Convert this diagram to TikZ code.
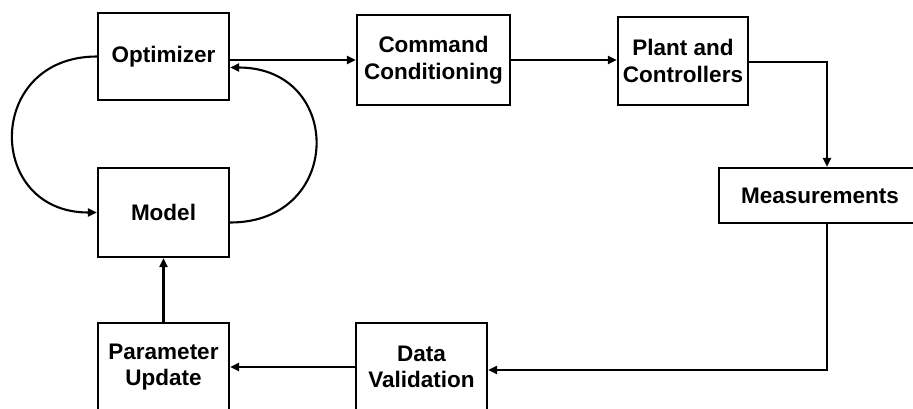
\documentclass[tikz,border=0pt]{standalone}
\usepackage{fontspec}
\setmainfont{Liberation Sans}
\usetikzlibrary{arrows.meta}
\begin{document}
\begin{tikzpicture}[x=1pt,y=-1pt,
  blk/.style={draw,line width=2.2pt,inner sep=0pt,align=center,
    font=\fontsize{22.5}{26.5}\selectfont\bfseries},
  flow/.style={line width=2.1pt,-{Triangle[length=9pt,width=8pt]}}]
\useasboundingbox (0,0) rectangle (913,408);
\clip (0,0) rectangle (913,408);
% blocks (lower ones run past the bottom edge)
\node[blk,minimum width=131pt,minimum height=87pt] (opt) at (163.5,56.5) {Optimizer};
\node[blk,minimum width=131pt,minimum height=89pt] (model) at (163.5,212.5) {Model};
\node[blk,minimum width=131pt,minimum height=88pt] (pu) at (163.5,367) {Parameter\\Update};
\node[blk,minimum width=153pt,minimum height=90pt] (cc) at (433.5,60) {Command\\Conditioning};
\node[blk,minimum width=130pt,minimum height=88pt] (plant) at (683,61) {Plant and\\Controllers};
\node[blk,minimum width=196pt,minimum height=55pt] (meas) at (817,195.5) {\hspace*{6pt}Measurements};
\node[blk,minimum width=131pt,minimum height=88pt] (dv) at (421.5,367) {Data\\Validation};
% forward path
\draw[flow] (opt.east |- cc.west) -- (cc.west);
\draw[flow] (cc.east) -- (cc.east -| plant.west);
\coordinate (mx) at ([xshift=10pt]meas.north);
\draw[flow] ([yshift=-1pt]plant.east) -| (mx);
\coordinate (vx) at ([yshift=-3pt]dv.east);
\draw[flow] ([xshift=10pt]meas.south) |- (vx);
\draw[flow] (dv.west) -- (dv.west -| pu.east);
\draw[flow] (pu.north) -- (model.south);
% optimizer / model loop
\draw[flow] (opt.west) .. controls (-15,56.5) and (-15,212.5) .. (model.west);
\coordinate (ms) at ([yshift=-10pt]model.east);
\coordinate (oe) at ([yshift=-11pt]opt.east);
\draw[flow] (ms) .. controls (344,222.5) and (344,67.5) .. (oe);
\end{tikzpicture}
\end{document}
